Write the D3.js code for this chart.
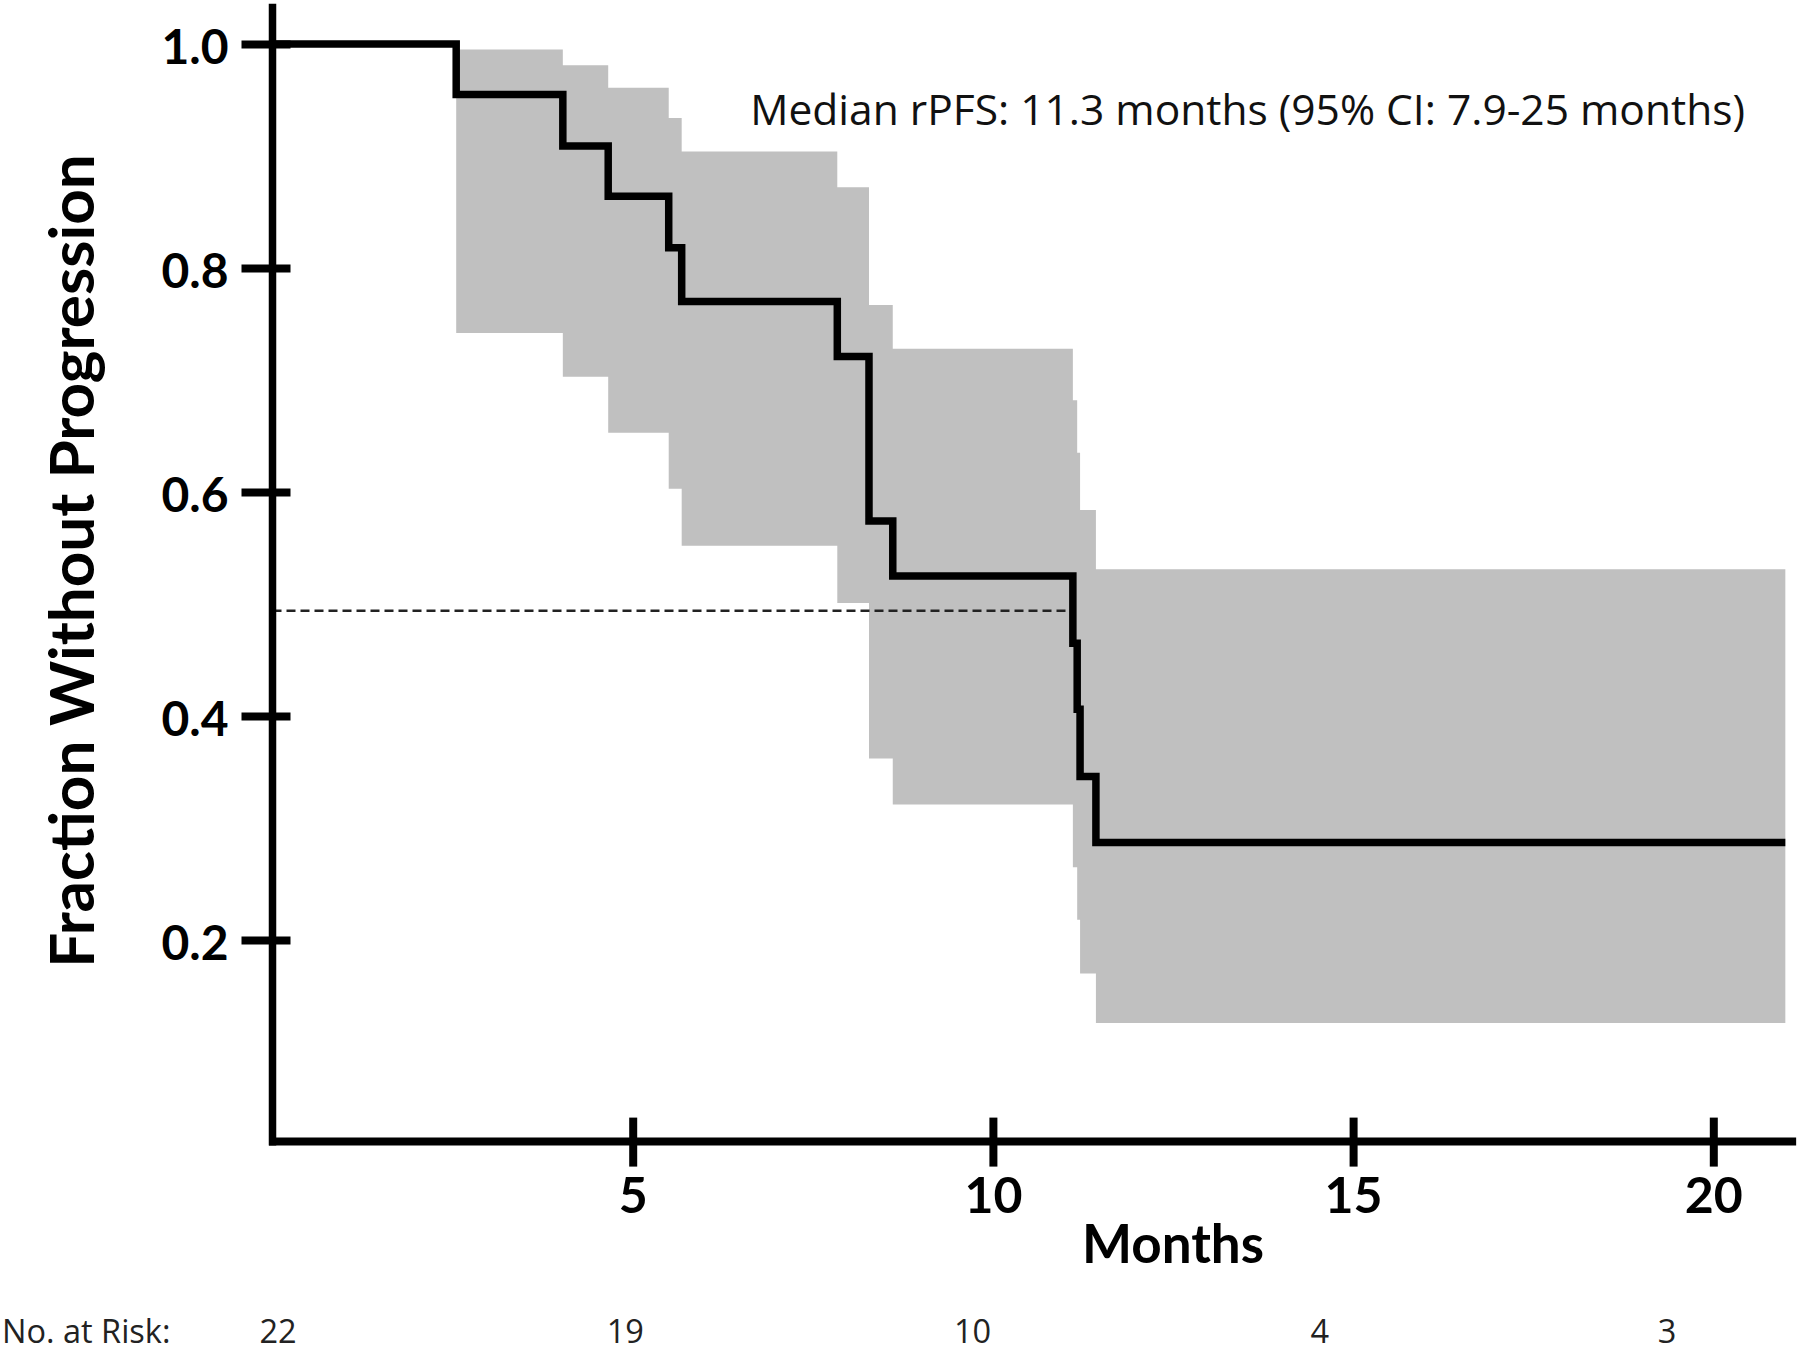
<!DOCTYPE html>
<html>
<head>
<meta charset="utf-8">
<script src="https://cdn.jsdelivr.net/npm/d3@7"></script>
<style>
  html, body { margin: 0; padding: 0; background: #fff; }
  svg { display: block; }
  text { font-family: Lato, "Open Sans", "DejaVu Sans", sans-serif; }
  text.regular { font-family: "Open Sans", Lato, "DejaVu Sans", sans-serif; }
</style>
</head>
<body>
<svg id="chart" width="1800" height="1354"></svg>
<script>
// ---- Data ----
const eventMonths = [0, 2.55, 4.03, 4.66, 5.50, 5.68, 7.84, 8.28, 8.61, 11.11, 11.17, 11.21, 11.43];
const survival    = [1.0, 0.955, 0.909, 0.864, 0.818, 0.770, 0.721, 0.574, 0.525, 0.465, 0.406, 0.346, 0.287];
const ciUpper     = [1.0, 0.995, 0.981, 0.961, 0.934, 0.904, 0.872, 0.767, 0.728, 0.682, 0.635, 0.584, 0.531];
const ciLower     = [1.0, 0.742, 0.703, 0.653, 0.603, 0.552, 0.501, 0.362, 0.321, 0.265, 0.218, 0.170, 0.126];
const followUpEnd = 21.0;
const xTickValues = [5, 10, 15, 20];
const yTickValues = [0.2, 0.4, 0.6, 0.8, 1.0];
const riskMonths  = [0, 5, 10, 15, 20];
const riskCounts  = [22, 19, 10, 4, 3];
const medianLevel = 0.494;
const medianMonth = 11.07;
const annotation  = "Median rPFS: 11.3 months (95% CI: 7.9-25 months)";
const xTitle = "Months";
const yTitle = "Fraction Without Progression";
const riskTitle = "No. at Risk:";
const axisYTop = 1.036, axisYBottom = 0.02, axisXRight = 21.15;

// ---- Scales ----
const svg = d3.select("#chart");
const x = d3.scaleLinear().domain([0, 20]).range([272.5, 1713.3]);
const y = d3.scaleLinear().domain([0.2, 1.0]).range([940, 44]);
const xRisk = d3.scaleLinear().domain([0, 20]).range([278, 1667]);

const km = eventMonths.map((t, i) => ({t, s: survival[i], lo: ciLower[i], hi: ciUpper[i]}));
const kmFull = km.concat([{t: followUpEnd, s: survival[survival.length - 1],
  lo: ciLower[ciLower.length - 1], hi: ciUpper[ciUpper.length - 1]}]);
const band = kmFull.slice(1);

// ---- CI band ----
svg.append("path")
  .datum(band)
  .attr("fill", "#c0c0c0")
  .attr("d", d3.area().curve(d3.curveStepAfter)
    .x(d => x(d.t)).y0(d => y(d.lo)).y1(d => y(d.hi)));

// ---- Median dashed line ----
svg.append("line")
  .attr("x1", x(0)).attr("x2", x(medianMonth))
  .attr("y1", y(medianLevel)).attr("y2", y(medianLevel))
  .attr("stroke", "#222").attr("stroke-width", 2.4)
  .attr("stroke-dasharray", "9,5");

// ---- KM line ----
svg.append("path")
  .datum(kmFull)
  .attr("fill", "none").attr("stroke", "#000").attr("stroke-width", 7.5)
  .attr("stroke-linejoin", "miter").attr("stroke-linecap", "butt")
  .attr("d", d3.line().curve(d3.curveStepAfter).x(d => x(d.t)).y(d => y(d.s)));

// ---- Axes ----
const yAxisG = svg.append("g").attr("transform", `translate(${x(0)},0)`)
  .call(d3.axisLeft(y).tickValues(yTickValues).tickFormat(d3.format(".1f")));
yAxisG.select(".domain").remove();
yAxisG.selectAll(".tick line").attr("x1", -31).attr("x2", 18)
  .attr("stroke", "#000").attr("stroke-width", 8);
yAxisG.selectAll(".tick text").attr("x", -44).attr("dy", 19)
  .attr("font-size", 48).attr("font-weight", 700).attr("fill", "#000");

const xAxisG = svg.append("g").attr("transform", `translate(0,${y(axisYBottom)})`)
  .call(d3.axisBottom(x).tickValues(xTickValues).tickFormat(d3.format("d")));
xAxisG.select(".domain").remove();
xAxisG.selectAll(".tick line").attr("y1", -24).attr("y2", 25)
  .attr("stroke", "#000").attr("stroke-width", 8);
xAxisG.selectAll(".tick text").attr("y", 71).attr("dy", 0)
  .attr("font-size", 50).attr("font-weight", 700).attr("fill", "#000");

svg.append("line")
  .attr("x1", x(0)).attr("x2", x(0))
  .attr("y1", y(axisYTop)).attr("y2", y(axisYBottom) + 4)
  .attr("stroke", "#000").attr("stroke-width", 7.5);
svg.append("line")
  .attr("x1", x(0) - 3.5).attr("x2", x(axisXRight))
  .attr("y1", y(axisYBottom)).attr("y2", y(axisYBottom))
  .attr("stroke", "#000").attr("stroke-width", 8);

// ---- Titles ----
svg.append("text")
  .attr("x", 1173).attr("y", 1263)
  .attr("text-anchor", "middle").attr("font-size", 53).attr("font-weight", 700)
  .text(xTitle);
svg.append("text")
  .attr("transform", "translate(94,561) rotate(-90)")
  .attr("text-anchor", "middle").attr("font-size", 62).attr("font-weight", 700)
  .text(yTitle);
svg.append("text")
  .attr("class", "regular")
  .attr("x", 1745).attr("y", 125)
  .attr("text-anchor", "end").attr("font-size", 42.5).attr("fill", "#111")
  .text(annotation);

// ---- Risk table ----
svg.append("text")
  .attr("class", "regular")
  .attr("x", 2).attr("y", 1343)
  .attr("font-size", 32.5).attr("fill", "#222")
  .text(riskTitle);
svg.selectAll("text.risk").data(riskCounts).join("text")
  .attr("class", "risk regular")
  .attr("x", (d, i) => xRisk(riskMonths[i])).attr("y", 1343)
  .attr("text-anchor", "middle").attr("font-size", 32.5).attr("fill", "#222")
  .text(d => d);
</script>
</body>
</html>
